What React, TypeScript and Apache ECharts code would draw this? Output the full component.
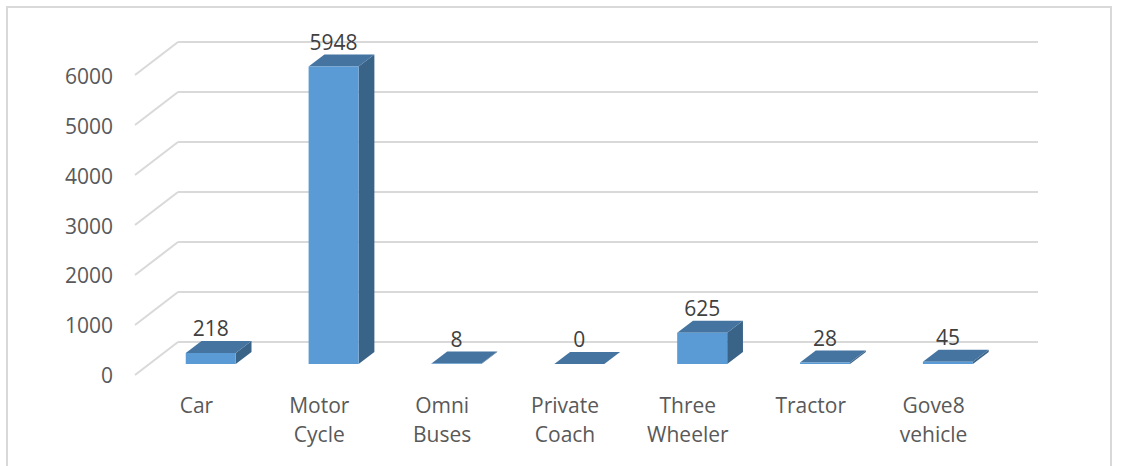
import React, { useEffect, useRef } from "react";
import * as echarts from "echarts";

const categories = ["Car", "Motor\nCycle", "Omni\nBuses", "Private\nCoach", "Three\nWheeler", "Tractor", "Gove8\nvehicle"];
const values = [218, 5948, 8, 0, 625, 28, 45];
const yTicks = [0, 1000, 2000, 3000, 4000, 5000, 6000];

const DX = -43; // full-depth offset (back -> front)
const DY = 33;
const D0 = 0.3; // bar back depth
const D1 = 0.667; // bar front depth
const HALF_W = 25;
const FONT = "'Open Sans', 'Noto Sans', sans-serif";

export default function App() {
  const ref = useRef<HTMLDivElement>(null);
  useEffect(() => {
    const chart = echarts.init(ref.current!, null, { renderer: "svg" });
    const option: any = {
      animation: false,
      backgroundColor: "#fff",
      grid: [
        { left: 178, right: 84, top: 42, bottom: 124 },
        { left: 135, right: 127, top: 76, bottom: 91 },
      ],
      xAxis: [
        {
          gridIndex: 0, type: "category", data: categories,
          axisLine: { show: false }, axisTick: { show: false }, axisLabel: { show: false },
        },
        {
          gridIndex: 1, type: "category", data: categories,
          axisLine: { show: false }, axisTick: { show: false },
          axisLabel: { color: "#595959", fontSize: 21, fontFamily: FONT, lineHeight: 29, margin: 15, interval: 0 },
        },
      ],
      yAxis: [
        {
          gridIndex: 0, type: "value", min: 0, max: 6000, interval: 1000,
          axisLabel: { show: false }, axisLine: { show: false }, axisTick: { show: false },
          splitLine: { show: true, lineStyle: { color: "#D9D9D9", width: 2 } },
        },
        {
          gridIndex: 1, type: "value", min: 0, max: 6000, interval: 1000,
          axisLine: { show: false }, axisTick: { show: false }, splitLine: { show: false },
          axisLabel: { color: "#595959", fontSize: 21, fontFamily: FONT, margin: 22, formatter: (v: number) => String(v) },
        },
      ],
      graphic: [
        {
          type: "rect", shape: { x: 7, y: 7, width: 1104, height: 480 },
          style: { fill: "none", stroke: "#D9D9D9", lineWidth: 2 }, silent: true,
        },
      ],
      series: [
        {
          type: "custom", xAxisIndex: 0, yAxisIndex: 0,
          data: yTicks.map((t) => [0, t]),
          renderItem: (params: any, api: any) => {
            const v = api.value(1);
            const p = api.coord([0, v]);
            const left = (params.coordSys.x as number);
            return {
              type: "line",
              shape: { x1: left, y1: p[1], x2: left + DX, y2: p[1] + DY },
              style: { stroke: "#D9D9D9", lineWidth: 2 },
            };
          },
          z: 1,
        },
        {
          type: "custom", xAxisIndex: 0, yAxisIndex: 0,
          data: values.map((v, i) => [i, v]),
          renderItem: (params: any, api: any) => {
            const i = api.value(0);
            const v = api.value(1);
            const base = api.coord([i, 0]);
            const top = api.coord([i, v]);
            const h = base[1] - top[1];
            const fx = base[0] + DX * D1;
            const fy = base[1] + DY * D1;
            const bdx = DX * (D0 - D1);
            const bdy = DY * (D0 - D1);
            const xl = fx - HALF_W, xr = fx + HALF_W;
            const yb = fy, yt = fy - h;
            return {
              type: "group",
              children: [
                {
                  type: "polygon",
                  shape: { points: [[xr, yt], [xr, yb], [xr + bdx, yb + bdy], [xr + bdx, yt + bdy]] },
                  style: { fill: "#3A6388" },
                },
                {
                  type: "polygon",
                  shape: { points: [[xl, yt], [xr, yt], [xr + bdx, yt + bdy], [xl + bdx, yt + bdy]] },
                  style: { fill: "#4574A1" },
                },
                {
                  type: "rect",
                  shape: { x: xl, y: yt, width: 2 * HALF_W, height: Math.max(h, 0) },
                  style: { fill: "#5B9BD5" },
                },
                {
                  type: "text",
                  style: {
                    text: String(v), x: fx, y: yt + bdy - 13,
                    align: "center", verticalAlign: "middle",
                    fill: "#404040", font: `21px ${FONT}`,
                  },
                },
              ],
            };
          },
          z: 2,
        },
      ],
    };
    chart.setOption(option);
    return () => chart.dispose();
  }, []);
  return (
    <div
      ref={ref}
      style={{ position: "fixed", left: 0, top: 0, width: 1122, height: 466 }}
    />
  );
}
